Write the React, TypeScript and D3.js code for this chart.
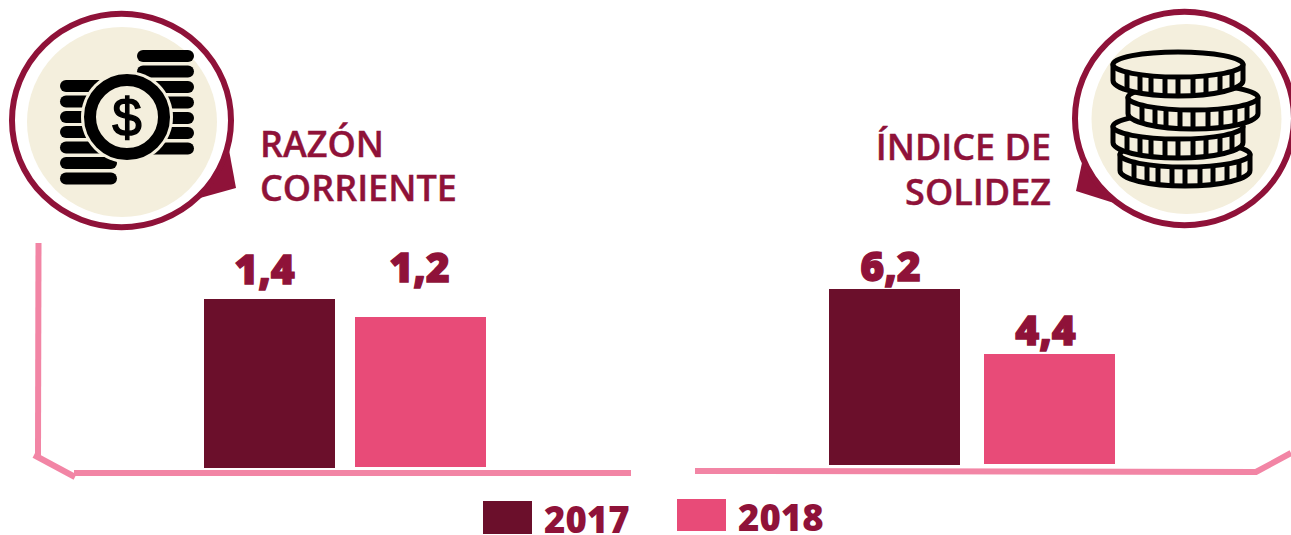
import React from "react";
import * as d3 from "d3";

const years = ["2017", "2018"];
const razonValues = [1.4, 1.2];
const solidezValues = [6.2, 4.4];
const razonLabels = ["1,4", "1,2"];
const solidezLabels = ["6,2", "4,4"];
const razonTitle = ["RAZÓN", "CORRIENTE"];
const solidezTitle = ["ÍNDICE DE", "SOLIDEZ"];

const DARK = "#6b0f2b";
const PINK = "#e84b78";
const MAROON = "#8f1239";
const CREAM = "#f4efdd";
const LINE = "#f285a5";
const FONT = "'Open Sans', sans-serif";

const barColor = d3.scaleOrdinal<string, string>().domain(years).range([DARK, PINK]);

function Panel({ values, labels, xRange, inner, yScale, bases, labelY, shift }: any) {
  const x = d3.scaleBand<string>().domain(years).range(xRange).paddingInner(inner).paddingOuter(0);
  return (
    <g>
      {years.map((yr, i) => {
        const top = yScale(values[i]);
        return (
          <g key={yr}>
            <rect x={x(yr)} y={top} width={x.bandwidth()} height={bases[i] - top} fill={barColor(yr)} />
            <text
              x={(x(yr) as number) + x.bandwidth() / 2 + shift[i]}
              y={labelY[i]}
              textAnchor="middle"
              fontFamily={FONT}
              fontWeight={800}
              fontSize={41}
              fill={MAROON}
              stroke={MAROON}
              strokeWidth={1.3}
            >
              {labels[i]}
            </text>
          </g>
        );
      })}
    </g>
  );
}

function Bubble({ cx, cy, fx, fy, tail }: any) {
  return (
    <g>
      <polygon points={tail.map((p: number[]) => p.join(",")).join(" ")} fill={MAROON} />
      <ellipse cx={cx} cy={cy} rx={109.5} ry={106.7} fill="#fff" stroke={MAROON} strokeWidth={6} />
      <circle cx={fx} cy={fy} r={95} fill={CREAM} />
    </g>
  );
}

const rightRows = [50, 65.5, 81, 96.5, 112, 127, 142.5];
const leftRows = [80, 95.5, 111, 126, 141.5, 157, 172.5];

function DollarIcon() {
  return (
    <g>
      {rightRows.map((y) => (
        <rect key={y} x={137} y={y} width={57} height={12} rx={6} fill="#000" />
      ))}
      {leftRows.map((y) => (
        <rect key={y} x={60} y={y} width={57} height={12} rx={6} fill="#000" />
      ))}
      <circle cx={127} cy={117} r={46} fill={CREAM} />
      <circle cx={127} cy={117} r={37} fill={CREAM} stroke="#000" strokeWidth={12} />
      <text
        x={127}
        y={136}
        textAnchor="middle"
        fontFamily="'Liberation Sans', sans-serif"
        fontSize={53}
        fill="#000"
        stroke="#000"
        strokeWidth={1.4}
      >
        $
      </text>
    </g>
  );
}

const ridges = [-51, -38, -27, -13, 0, 15, 28, 42, 54];

function Coin({ cx, top }: { cx: number; top: number }) {
  const rx = 65;
  const ry = 12.5;
  const h = 19;
  const cy = top + 14.5;
  const front = (dx: number) => cy + ry * Math.sqrt(1 - (dx / rx) ** 2);
  return (
    <g stroke="#000" fill={CREAM} strokeLinejoin="round">
      <path
        d={`M${cx - rx},${cy} V${cy + h - 3} A${rx},${ry + 3} 0 0 0 ${cx + rx},${cy + h - 3} V${cy} Z`}
        strokeWidth={5}
      />
      <ellipse cx={cx} cy={cy} rx={rx} ry={ry} strokeWidth={5} />
      {ridges.map((dx) => (
        <line key={dx} x1={cx + dx} x2={cx + dx} y1={front(dx)} y2={front(dx) + h} strokeWidth={5} />
      ))}
    </g>
  );
}

const axisLeft = d3.line()([[38.5, 243], [38, 456]]) as string;
const axisLeftDiag = d3.line()([[34, 455], [75, 477]]) as string;
const axisLeftBase = d3.line()([[74, 473], [631, 473]]) as string;
const axisRight = d3.line()([[695, 471], [1256, 472], [1291, 453]]) as string;

export default function App() {
  const yLeft = d3.scaleLinear().domain([1.2, 1.4]).range([317, 299]);
  const yRight = d3.scaleLinear().domain([4.4, 6.2]).range([354, 289]);
  const title = {
    fontFamily: FONT,
    fontWeight: 600,
    fontSize: 36,
    fill: MAROON,
    stroke: MAROON,
    strokeWidth: 0.4,
  } as const;
  const legendText = { fontFamily: FONT, fontWeight: 800, fontSize: 36.5, fill: MAROON } as const;
  return (
    <svg width={1291} height={535} style={{ position: "absolute", left: 0, top: 0, background: "#fff" }}>
      <g fill="none" stroke={LINE} strokeWidth={6}>
        <path d={axisLeft} />
        <path d={axisLeftDiag} />
        <path d={axisLeftBase} />
        <path d={axisRight} />
      </g>

      <Panel
        values={razonValues}
        labels={razonLabels}
        xRange={[204, 486]}
        inner={20 / 151}
        yScale={yLeft}
        bases={[468, 467]}
        labelY={[284, 282]}
        shift={[-5, -1]}
      />
      <Panel
        values={solidezValues}
        labels={solidezLabels}
        xRange={[829, 1115]}
        inner={24 / 155}
        yScale={yRight}
        bases={[465, 464]}
        labelY={[281, 345]}
        shift={[-4, -4]}
      />

      <Bubble cx={121.5} cy={120.5} fx={122} fy={122} tail={[[229, 150], [236, 188], [200, 198]]} />
      <DollarIcon />
      <Bubble cx={1184.5} cy={118.5} fx={1186.5} fy={119} tail={[[1083, 158], [1076, 191], [1114, 203]]} />
      <Coin cx={1185} top={140} />
      <Coin cx={1178} top={112} />
      <Coin cx={1193} top={83} />
      <Coin cx={1178} top={50} />

      <text x={260} y={157} {...title}>{razonTitle[0]}</text>
      <text x={260} y={201} {...title}>{razonTitle[1]}</text>
      <text x={1051} y={160} textAnchor="end" {...title}>{solidezTitle[0]}</text>
      <text x={1051} y={205} textAnchor="end" {...title}>{solidezTitle[1]}</text>

      <rect x={483} y={501} width={49} height={33} fill={barColor(years[0])} />
      <text x={544} y={533} {...legendText}>{years[0]}</text>
      <rect x={677} y={499} width={49} height={32} fill={barColor(years[1])} />
      <text x={738} y={531} {...legendText}>{years[1]}</text>
    </svg>
  );
}
